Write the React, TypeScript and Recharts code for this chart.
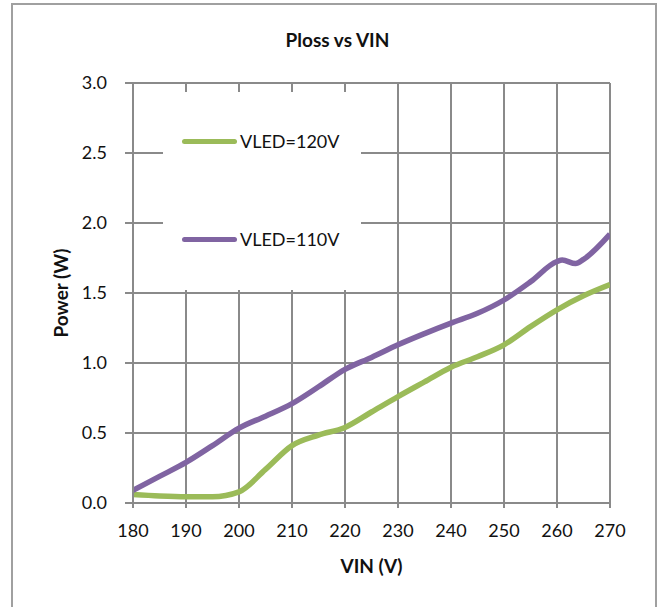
import React from 'react';
import { LineChart, Line, XAxis, YAxis, CartesianGrid, Legend } from 'recharts';

const seriesNames = ['VLED=120V', 'VLED=110V'];
const seriesColors = ['#9bbb59', '#8064a2'];

const vin120 = [180, 185, 190, 195, 200, 205, 210, 215, 220, 225, 230, 235, 240, 245, 250, 255, 260, 265, 270];
const ploss120 = [0.06, 0.05, 0.045, 0.045, 0.08, 0.24, 0.41, 0.485, 0.54, 0.65, 0.76, 0.865, 0.97, 1.045, 1.13, 1.26, 1.38, 1.48, 1.56];

const vin110 = [180, 185, 190, 195, 200, 205, 210, 215, 220, 225, 230, 235, 240, 245, 250, 255, 260, 261, 263.5, 265, 270];
const ploss110 = [0.09, 0.19, 0.29, 0.41, 0.535, 0.62, 0.71, 0.83, 0.955, 1.04, 1.13, 1.21, 1.285, 1.355, 1.45, 1.58, 1.725, 1.735, 1.71, 1.74, 1.92];

const xTicks = [180, 190, 200, 210, 220, 230, 240, 250, 260, 270];
const yTicks = [0, 0.5, 1.0, 1.5, 2.0, 2.5, 3.0];

const titleText = 'Ploss vs VIN';
const xTitle = 'VIN (V)';
const yTitle = 'Power (W)';

const data120 = vin120.map((v, i) => ({ vin: v, p: ploss120[i] }));
const data110 = vin110.map((v, i) => ({ vin: v, p: ploss110[i] }));

const FONT = 'Lato, "Open Sans", sans-serif';
const GRID = '#8a8a8a';

const LegendBox = () => (
  <div style={{ position: 'relative', width: 198, height: 198, background: '#fff', fontFamily: FONT }}>
    {seriesNames.map((name, i) => (
      <div
        key={name}
        style={{
          position: 'absolute',
          left: 19,
          top: i === 0 ? 39 : 137,
          height: 20,
          display: 'flex',
          alignItems: 'center',
        }}
      >
        <div style={{ width: 55, height: 5, borderRadius: 3, background: seriesColors[i] }} />
        <span style={{ fontSize: 18, color: '#111', marginLeft: 3, lineHeight: '20px' }}>{name}</span>
      </div>
    ))}
  </div>
);

const YTitle = (props: any) => {
  const vb = props.viewBox || { x: 73, y: 83, width: 60, height: 420 };
  const cx = vb.x - 13;
  const cy = vb.y + vb.height / 2;
  return (
    <text
      x={cx}
      y={cy}
      transform={`rotate(-90 ${cx} ${cy})`}
      textAnchor="middle"
      dominantBaseline="central"
      fontFamily={FONT}
      fontWeight="bold"
      fontSize={19}
      fill="#111"
    >
      {yTitle}
    </text>
  );
};

const XTitle = (props: any) => {
  const vb = props.viewBox || { x: 133, y: 503, width: 477, height: 30 };
  const cx = vb.x + vb.width / 2;
  const cy = 565;
  return (
    <text x={cx} y={cy} textAnchor="middle" dominantBaseline="central" fontFamily={FONT} fontWeight="bold" fontSize={19} fill="#111">
      {xTitle}
    </text>
  );
};

export default function App() {
  return (
    <div style={{ position: 'absolute', left: 0, top: 0, width: 659, height: 607, overflow: 'hidden', background: '#fff' }}>
      <div
        style={{
          position: 'absolute',
          left: 11,
          top: 3,
          width: 646,
          height: 700,
          boxSizing: 'border-box',
          border: '2px solid #a0a0a0',
        }}
      />
      <div
        style={{
          position: 'absolute',
          left: 0,
          width: 659,
          top: 28,
          textAlign: 'center',
          paddingLeft: 8,
          fontFamily: FONT,
          fontWeight: 'bold',
          fontSize: 19,
          color: '#111',
        }}
      >
        {titleText}
      </div>
      <div style={{ position: 'absolute', left: 0, top: 0 }}>
        <LineChart width={659} height={607} margin={{ top: 83, right: 49, bottom: 74, left: 73 }}>
          <CartesianGrid stroke={GRID} strokeWidth={2} />
          <XAxis
            dataKey="vin"
            type="number"
            domain={[180, 270]}
            ticks={xTicks}
            allowDataOverflow
            height={30}
            tickSize={5}
            tickMargin={16}
            axisLine={{ stroke: GRID, strokeWidth: 2 }}
            tickLine={{ stroke: GRID, strokeWidth: 2 }}
            tick={{ fill: '#111', fontSize: 18, fontFamily: FONT }}
            label={<XTitle />}
          />
          <YAxis
            type="number"
            domain={[0, 3]}
            ticks={yTicks}
            width={60}
            tickSize={8}
            tickMargin={18}
            tickFormatter={(v: number) => v.toFixed(1)}
            axisLine={{ stroke: GRID, strokeWidth: 2 }}
            tickLine={{ stroke: GRID, strokeWidth: 2 }}
            tick={{ fill: '#111', fontSize: 18, fontFamily: FONT }}
            label={<YTitle />}
          />
          <Legend
            layout="horizontal"
            verticalAlign="middle"
            align="center"
            width={198}
            height={198}
            wrapperStyle={{ left: 163, top: 92, width: 198, height: 198, background: '#fff' }}
            content={() => <LegendBox />}
          />
          <Line
            data={data120}
            dataKey="p"
            name={seriesNames[0]}
            type="monotone"
            stroke={seriesColors[0]}
            strokeWidth={5.5}
            dot={false}
            activeDot={false}
            isAnimationActive={false}
          />
          <Line
            data={data110}
            dataKey="p"
            name={seriesNames[1]}
            type="monotone"
            stroke={seriesColors[1]}
            strokeWidth={5.5}
            dot={false}
            activeDot={false}
            isAnimationActive={false}
          />
        </LineChart>
      </div>
    </div>
  );
}
